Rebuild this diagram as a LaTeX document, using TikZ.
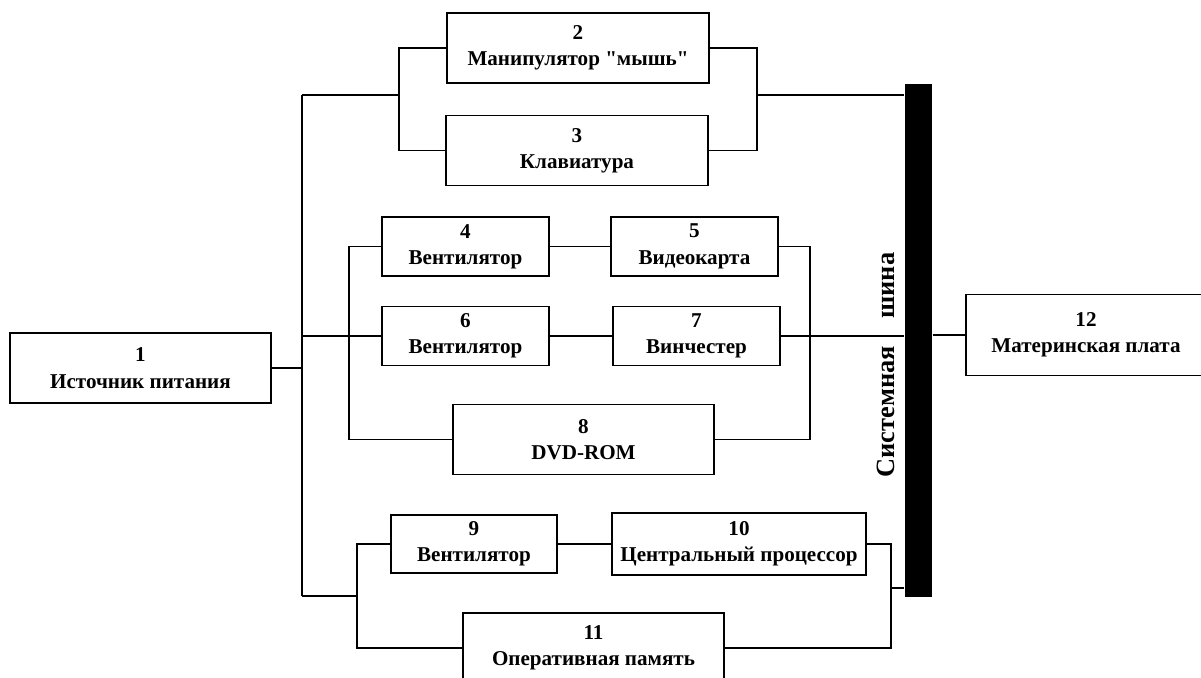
\documentclass[tikz,border=0pt]{standalone}
\usepackage{fontspec}
\setmainfont{Liberation Serif}[Ligatures=TeXOff]
\begin{document}
\begin{tikzpicture}[line width=0.8pt,
    box/.style={draw, black, align=center, inner sep=0pt, font=\bfseries\fontsize{12}{15}\selectfont},
    wide/.style={box, minimum width=5.22cm, minimum height=1.40cm},
    small/.style={box, minimum width=3.34cm, minimum height=1.18cm}]
	\useasboundingbox (0,0) rectangle (24.02,-13.54);
	\clip (0,0) rectangle (24.02,-13.54);
	\node[wide] (b1) at (2.81,-7.36) {1\\Источник питания};
	\node[wide, minimum width=5.24cm] (b2) at (11.56,-0.96) {2\\Манипулятор "мышь"};
	\node[wide, minimum width=5.24cm] (b3) at (11.54,-3.01) {3\\Клавиатура};
	\node[small] (b4) at (9.31,-4.93) {4\\Вентилятор};
	\node[small] (b5) at (13.89,-4.93) {5\\Видеокарта};
	\node[small] (b6) at (9.31,-6.72) {6\\Вентилятор};
	\node[small] (b7) at (13.93,-6.72) {7\\Винчестер};
	\node[wide] (b8) at (11.67,-8.79) {8\\DVD-ROM};
	\node[small, minimum width=3.32cm, minimum height=1.16cm] (b9) at (9.48,-10.88) {9\\Вентилятор};
	\node[small, minimum width=5.08cm, minimum height=1.24cm] (b10) at (14.78,-10.88) {10\\Центральный процессор};
	\node[wide] (b11) at (11.87,-12.96) {11\\Оперативная память};
	\node[box, minimum width=4.80cm, minimum height=1.62cm] (b12) at (21.72,-6.70) {12\\Материнская плата};
	\node[fill=black, inner sep=0pt, minimum width=0.54cm, minimum height=10.26cm] (bus) at (18.37,-6.81) {};
	\node[rotate=90, font=\bfseries\fontsize{15}{18}\selectfont] (lbl) at (17.72,-7.30) {Системная\hspace{0.55cm}шина};
	\coordinate (tTop) at (6.04,-1.90);
	\coordinate (tBot) at (6.04,-11.92);
	\coordinate (lA) at (7.98,-1.90);
	\coordinate (rA) at (15.14,-1.90);
	\coordinate (lB) at (6.98,-6.72);
	\coordinate (rB) at (16.20,-6.72);
	\coordinate (lC) at (7.14,-11.92);
	\coordinate (rC) at (17.82,-11.76);
	\draw (b1.east) -- (b1.east -| tTop);
	\draw (tTop) -- (tBot);
	\draw (tTop) -- (lA);
	\draw (b2.west) -| (lA) |- (b3.west);
	\draw (b2.east) -| (rA) |- (b3.east);
	\draw (rA) -- (rA -| bus.west);
	\draw (b6.west) -- (b6.west -| tTop);
	\draw (b4.west) -| (lB) |- (b8.west);
	\draw (b4) -- (b5);
	\draw (b6) -- (b7);
	\draw (b5.east) -| (rB) |- (b8.east);
	\draw (b7.east) -- (b7.east -| bus.west);
	\draw (bus.east |- b12.west) -- (b12.west);
	\draw (tBot) -- (lC);
	\draw (b9.west) -| (lC) |- (b11.west);
	\draw (b9) -- (b10);
	\draw (b10.east) -| (rC) |- (b11.east);
	\draw (rC) -- (rC -| bus.west);
\end{tikzpicture}
\end{document}
